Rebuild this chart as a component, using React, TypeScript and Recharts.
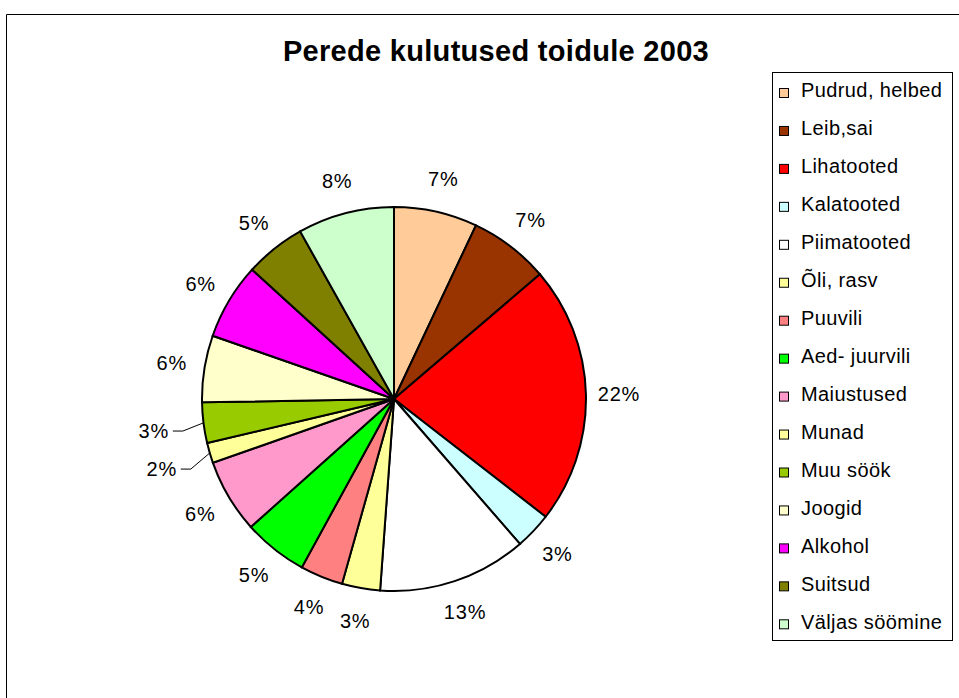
import { Cell, Legend, Pie, PieChart } from 'recharts'

const title = 'Perede kulutused toidule 2003'

const categories = [
  'Pudrud, helbed',
  'Leib,sai',
  'Lihatooted',
  'Kalatooted',
  'Piimatooted',
  'Õli, rasv',
  'Puuvili',
  'Aed- juurvili',
  'Maiustused',
  'Munad',
  'Muu söök',
  'Joogid',
  'Alkohol',
  'Suitsud',
  'Väljas söömine',
]

// share of the food budget, %
const shares = [7.0, 6.7, 21.7, 3.1, 12.5, 3.2, 3.6, 5.4, 6.2, 1.7, 3.4, 5.6, 6.4, 5.1, 8.1]

const colors = [
  '#ffcc99',
  '#993300',
  '#ff0000',
  '#ccffff',
  '#ffffff',
  '#ffff99',
  '#ff8080',
  '#00ff00',
  '#ff99cc',
  '#ffff99',
  '#99cc00',
  '#ffffcc',
  '#ff00ff',
  '#808000',
  '#ccffcc',
]

const chartData = categories.map((name, i) => ({ name, value: shares[i] }))

const FONT = '"Liberation Sans", Arial, sans-serif'
const RADIAN = Math.PI / 180

function renderLabel(props: any) {
  const { cx, cy, midAngle, outerRadius, percent, index } = props
  const cos = Math.cos(-midAngle * RADIAN)
  const sin = Math.sin(-midAngle * RADIAN)
  const text = `${Math.round(percent * 100 + 1e-9)}%`
  // small slices on the side get pushed out with a leader line
  const pushed = percent < 0.035 && Math.abs(cos) > 0.9
  if (!pushed) {
    const r = outerRadius + 33
    return (
      <text
        key={`lbl-${index}`}
        x={cx + r * cos}
        y={cy + r * sin}
        textAnchor="middle"
        dominantBaseline="central"
        fontSize={20}
        letterSpacing={0.8}
        fontFamily={FONT}
        fill="#000"
      >
        {text}
      </text>
    )
  }
  const r = outerRadius + 50
  const lx = cx + r * cos
  const ly = cy + r * sin + 2
  const ex = cx + outerRadius * cos
  const ey = cy + outerRadius * sin
  const side = cos < 0 ? 1 : -1
  const endX = lx + side * 19
  return (
    <g key={`lbl-${index}`}>
      <path
        d={`M${ex},${ey} L${endX + side * 10},${ly} L${endX},${ly}`}
        stroke="#000"
        strokeWidth={1}
        fill="none"
      />
      <text
        x={lx}
        y={ly}
        textAnchor="middle"
        dominantBaseline="central"
        fontSize={20}
        letterSpacing={0.8}
        fontFamily={FONT}
        fill="#000"
      >
        {text}
      </text>
    </g>
  )
}

const ROW = 37.95

function renderLegend() {
  return (
    <svg width={182} height={570} style={{ display: 'block' }}>
      <rect x={0.5} y={0.5} width={180} height={568} fill="#fff" stroke="#000" strokeWidth={1} />
      {categories.map((name, i) => (
        <g key={name}>
          <rect x={7.5} y={16.5 + i * ROW} width={9} height={9} fill={colors[i]} stroke="#000" strokeWidth={1} />
          <text x={29} y={25.3 + i * ROW} fontSize={20} fontFamily={FONT} letterSpacing={0.4} fill="#000">
            {name}
          </text>
        </g>
      ))}
    </svg>
  )
}

export default function App() {
  return (
    <div style={{ position: 'absolute', left: 0, top: 0, width: 959, height: 698, background: '#fff' }}>
      <svg width={959} height={698} style={{ position: 'absolute', left: 0, top: 0 }}>
        <path d="M6.5,698 V14.5 H959" stroke="#000" strokeWidth={1} fill="none" />
        <text
          x={496}
          y={61}
          textAnchor="middle"
          fontSize={29}
          fontWeight="bold"
          letterSpacing={0.3}
          fontFamily={FONT}
          fill="#000"
        >
          {title}
        </text>
      </svg>
      <div style={{ position: 'absolute', left: 0, top: 0 }}>
        <PieChart width={959} height={698} margin={{ top: 0, right: 0, bottom: 0, left: 0 }}>
          <Pie
            data={chartData}
            dataKey="value"
            nameKey="name"
            cx={394}
            cy={399}
            outerRadius={192}
            startAngle={90}
            endAngle={-270}
            stroke="#000"
            strokeWidth={2}
            label={renderLabel}
            labelLine={false}
            isAnimationActive={false}
          >
            {chartData.map((d, i) => (
              <Cell key={d.name} fill={colors[i]} />
            ))}
          </Pie>
          <Legend
            layout="vertical"
            align="right"
            verticalAlign="middle"
            content={renderLegend}
            wrapperStyle={{ left: 772, top: 72, width: 182, height: 570 }}
          />
        </PieChart>
      </div>
    </div>
  )
}
